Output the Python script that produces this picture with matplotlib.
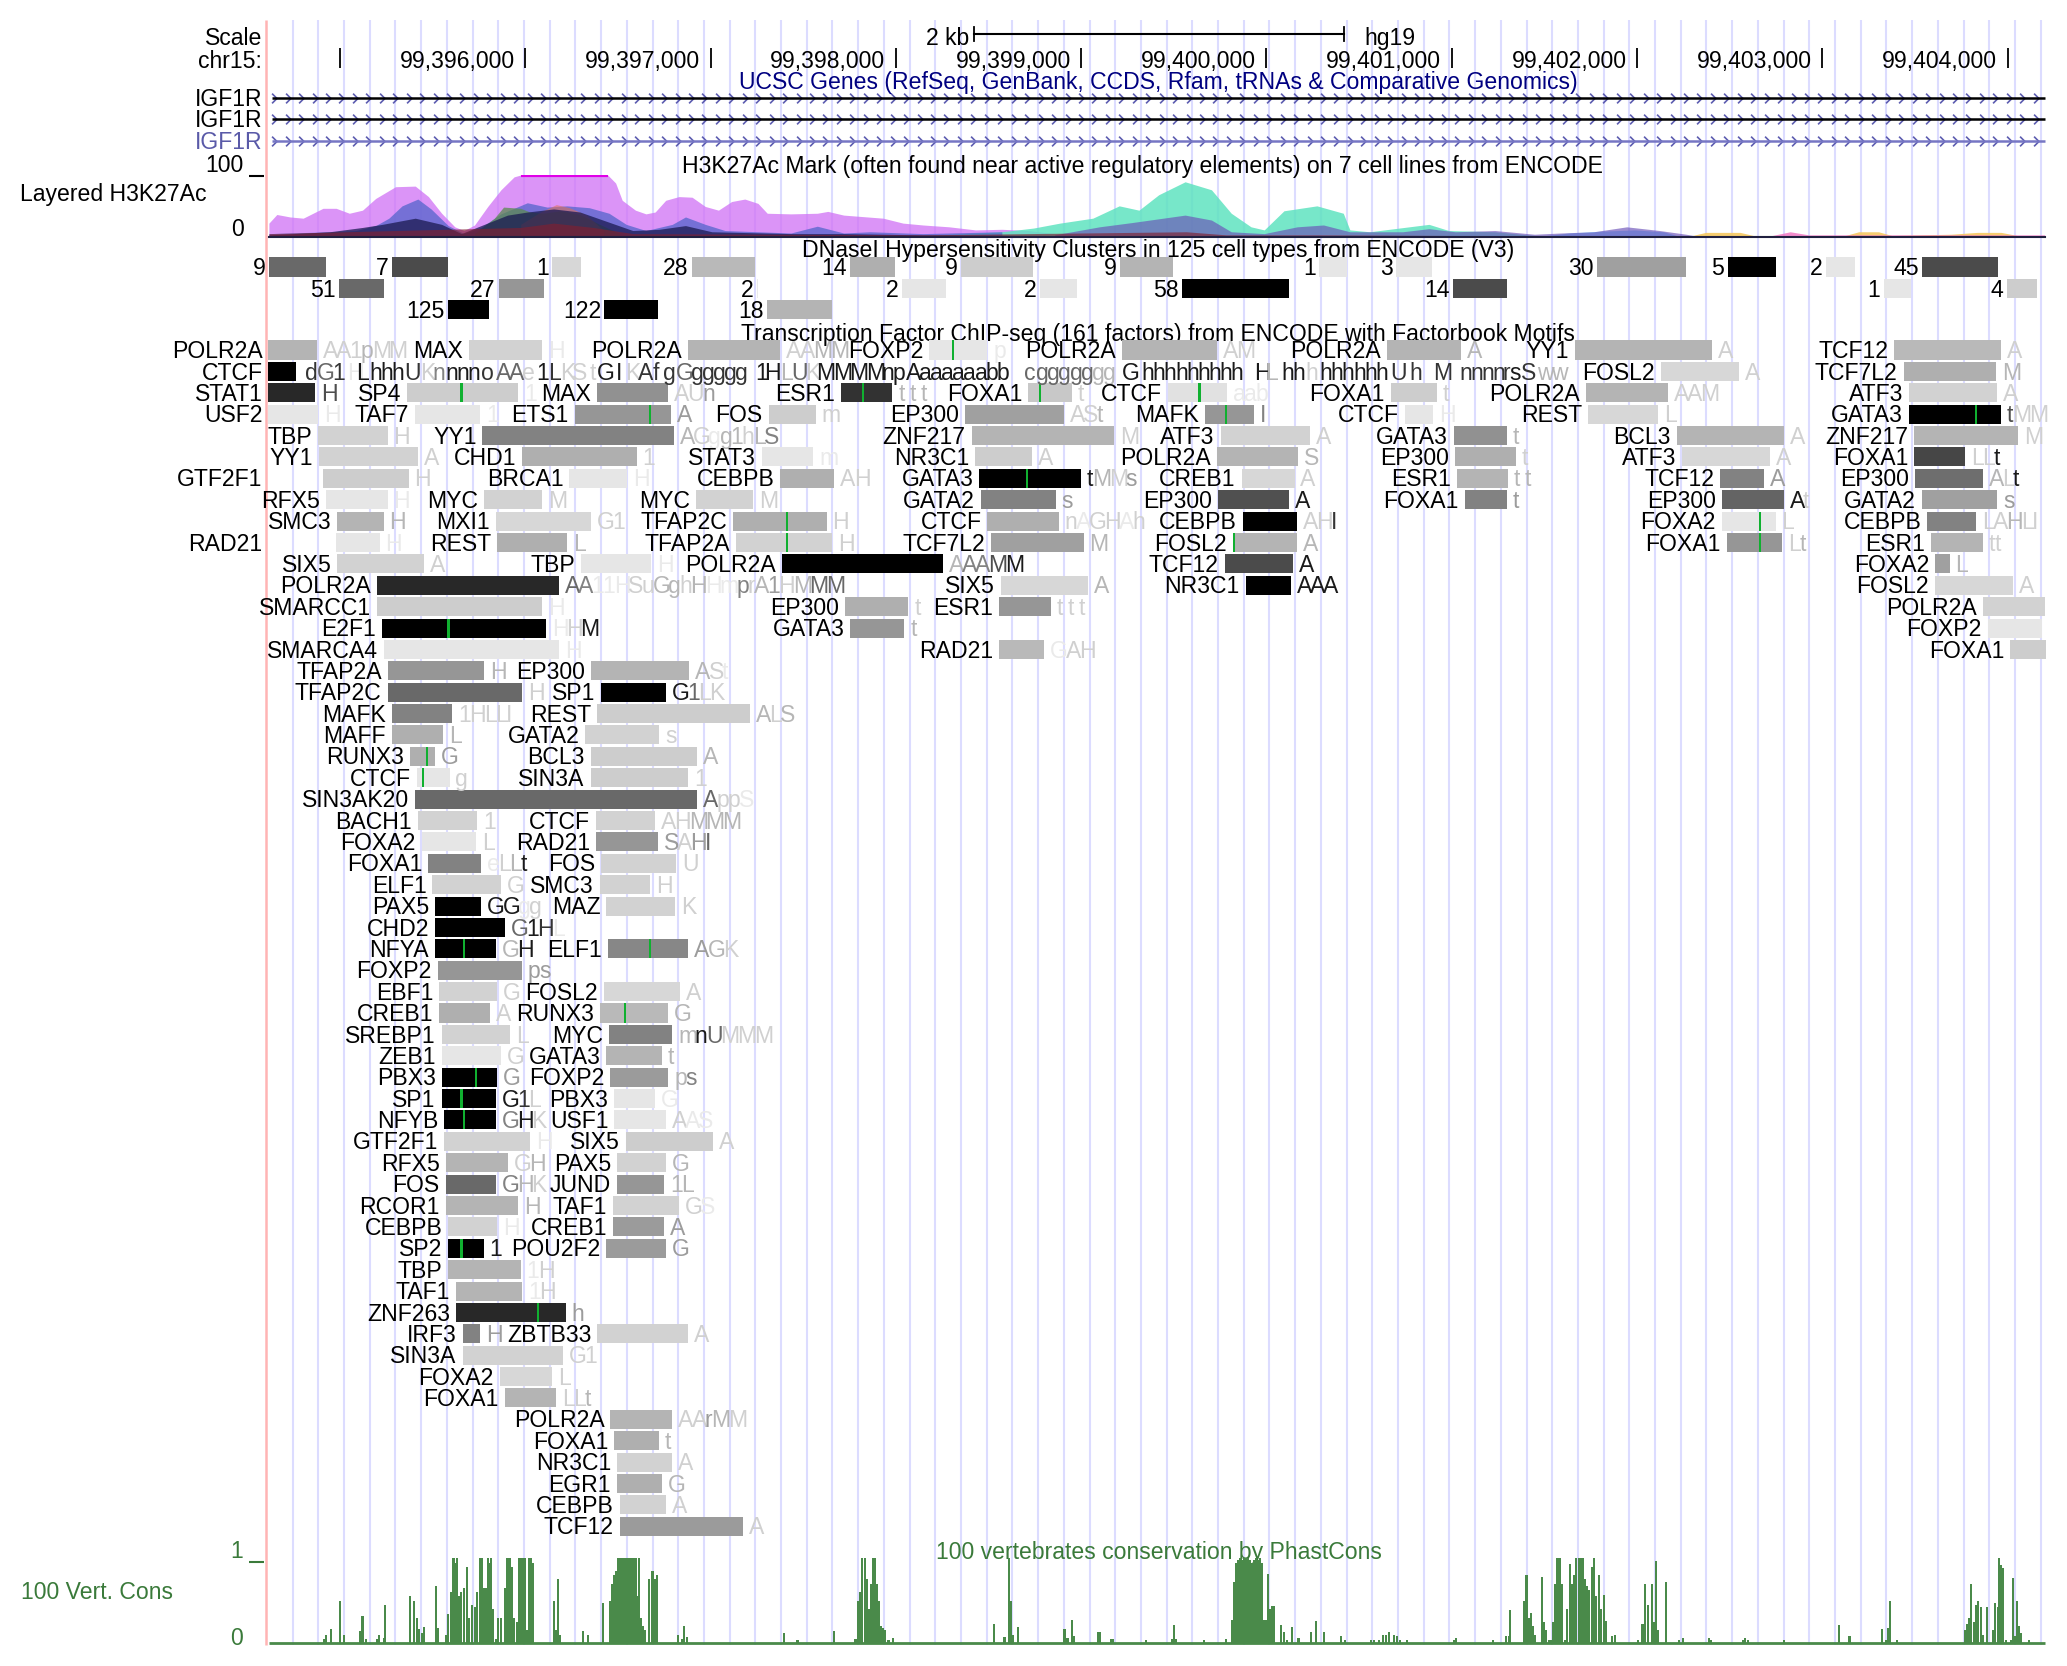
import numpy as np
import matplotlib
matplotlib.use("Agg")
import matplotlib.pyplot as plt
from matplotlib.path import Path

plt.rcParams['font.family'] = ['Liberation Sans', 'DejaVu Sans']
W, H, DPI = 2067, 1666, 100
FS = 16.6

# ---------- ruler ----------
ruler_pos = [99395000, 99396000, 99397000, 99398000, 99399000, 99400000,
             99401000, 99402000, 99403000, 99404000]
scale_kb = 2

# ---------- DNase clusters (columns of the browser image) ----------
dn_score = [["9", "7", "1", "28", "14", "9", "9", "1", "3", "30", "5", "2", "45"],
            ["51", "27", "2", "2", "2", "58", "14", "1", "4"],
            ["125", "122", "18"]]
dn_start = [[204, 297.5, 419, 525, 645, 729, 849.5, 1000.5, 1059, 1211.5, 1310.5, 1385, 1458],
            [257.5, 378.5, 574, 684.5, 789, 897, 1102.5, 1429, 1522.5],
            [340, 458.5, 582]]
dn_end = [[247.5, 340, 440.5, 572.5, 679, 784, 890, 1021.5, 1086.5, 1279, 1347.5, 1407.5, 1516],
          [291, 413, 575, 718, 817, 978, 1143, 1450, 1545.5],
          [371, 499, 631.5]]
dn_gray = [[105, 75, 215, 185, 175, 205, 180, 230, 230, 160, 0, 230, 75],
           [105, 150, 235, 230, 230, 0, 75, 230, 205],
           [0, 0, 180]]

# ---------- H3K27Ac layers ----------
purple_col = [204, 210, 220, 230, 245, 255, 265, 275, 285, 300, 315, 325, 335, 345, 352, 360, 370, 380, 390, 395,
              461, 467, 472, 482, 490, 497, 505, 515, 525, 535, 545, 555, 565, 575, 582, 600, 620, 628, 640, 670,
              685, 700, 720, 740, 760, 780, 800, 830]
purple_val = [22, 36, 32, 30, 46, 46, 38, 43, 62, 81, 82, 65, 38, 16, 10, 19, 49, 76, 97, 100,
              100, 87, 59, 43, 37, 40, 59, 65, 64, 49, 43, 57, 61, 54, 38, 37, 38, 41, 35, 30,
              22, 19, 16, 11, 12, 10, 5, 3]
blue_col = [204, 250, 270, 285, 295, 305, 317, 327, 340, 352, 365, 380, 400, 415, 430, 447, 462, 475, 490, 510,
            520, 535, 550, 600, 620, 640, 660, 700, 760]
blue_val = [5, 8, 10, 18, 30, 50, 61, 45, 18, 5, 15, 37, 55, 48, 50, 47, 38, 20, 10, 20,
            32, 20, 10, 6, 17, 6, 8, 5, 8]
dark_col = [204, 250, 275, 290, 315, 335, 350, 365, 385, 400, 420, 440, 460, 480, 500, 520, 540, 600, 640, 700, 800]
dark_val = [3, 8, 15, 20, 30, 20, 5, 18, 35, 40, 45, 40, 25, 10, 12, 18, 8, 5, 5, 3, 2]
olive_col = [360, 375, 382, 395, 402, 412, 425, 440, 455, 470]
olive_val = [5, 30, 48, 46, 40, 38, 42, 36, 20, 5]
orange_col = [395, 410, 422, 432, 445, 458]
orange_val = [20, 40, 52, 47, 35, 10]
red_col = [204, 300, 395, 420, 450, 480, 700, 900, 930, 1000, 1100, 1551]
red_val = [5, 10, 15, 22, 15, 5, 3, 8, 3, 3, 2, 1]
teal_col = [700, 730, 760, 784, 804, 829, 849, 864, 879, 899, 919, 934, 949, 959, 974, 999, 1019, 1024, 1039, 1084, 1099, 1134, 1164, 1180]
teal_val = [2, 5, 8, 14, 22, 30, 50, 43, 68, 89, 76, 38, 16, 11, 42, 50, 38, 11, 8, 20, 10, 8, 2, 0]
slate_col = [800, 834, 859, 879, 899, 919, 934, 959, 984, 1004, 1024, 1064, 1084, 1104, 1134, 1164, 1184, 1209, 1234, 1259, 1279, 1290]
slate_val = [3, 16, 23, 29, 35, 27, 8, 5, 16, 19, 8, 8, 13, 8, 10, 4, 6, 8, 16, 10, 4, 0]
cyan_col = [1165, 1190, 1215, 1240, 1262, 1275]
cyan_val = [0, 6, 9, 11, 8, 0]
yellow_col = [1280, 1294, 1320, 1330, 1400, 1410, 1425, 1435, 1480, 1500, 1518, 1530]
yellow_val = [0, 7, 7, 2, 2, 8, 8, 2, 4, 7, 7, 2]
pink_col = [1340, 1358, 1372, 1500, 1551]
pink_val = [0, 8, 3, 3, 3]

# ---------- PhastCons, region by region ----------
cons_a_col = [246, 247.5, 251, 258, 261, 273.5, 275, 277.5, 286, 287.5, 291, 292]
cons_a_val = [.05, .09, .17, .50, .10, .14, .32, .05, .05, .09, .06, .45]
cons_b_col = [311, 314, 316, 318, 320, 321.5, 330.5, 332.5, 338.5, 340]
cons_b_val = [.55, .50, .30, .16, .12, .19, .67, .18, .10, .34]
cons_c_col = [342, 344, 345.5, 347, 348.5, 350, 352, 354, 356, 358, 360, 362, 364, 365.5, 367, 368.5, 370, 371, 372.5, 374]
cons_c_val = [.60, 1, .95, 1, .55, .60, .65, .90, .30, .45, .43, .60, 1, 1, .65, .65, 1, .95, 1, .40]
cons_d_col = [376, 378, 380, 383, 385, 386.5, 388, 390, 392, 394, 395.5, 397, 398.5, 400, 401, 402.5, 404]
cons_d_val = [.05, .30, .30, .65, 1, 1, .90, .30, .25, 1, 1, 1, 1, .15, 1, 1, .95]
cons_e_col = [420, 421.5, 423.5, 425, 442.5, 446, 457.5, 462.5, 464, 466, 467.5]
cons_e_val = [.50, .15, .75, .10, .14, .10, .47, .50, .70, .80, .85]
cons_f_col = [469, 470.5, 472, 473.5, 475, 476.5, 478, 479.5, 481, 482.5, 484, 485, 486.5, 488, 489.5]
cons_f_val = [1, 1, 1, 1, 1, 1, 1, 1, 1, 1, .55, 1, .30, .20, .15]
cons_g_col = [492.5, 495, 496.5, 498.5, 514, 517.5, 519, 521, 595, 605, 632.5]
cons_g_val = [.75, .85, .75, .80, .10, .05, .20, .07, .12, .03, .14]
cons_h_col = [649, 651, 652.5, 654, 656, 657.5, 659, 661, 662.5, 664, 665.5, 667, 668.5, 670, 671.5, 674, 677.5]
cons_h_val = [.05, .50, .60, 1, 1, .75, .40, .70, 1, 1, .70, .50, .20, .18, .15, .04, .06]
cons_i_col = [754, 762, 765.5, 767, 768.5, 772, 807.5, 809, 810.5, 813, 815, 833, 834.5, 843, 844.5, 869.5]
cons_i_val = [.23, .07, 1, .50, .10, .19, .17, .06, .06, .27, .08, .13, .13, .05, .05, .03]
cons_j_col = [889, 890.5, 892, 913.5, 930, 935, 936.5, 938, 939.5, 941, 942.5, 944, 945.5, 947, 948.5]
cons_j_val = [.05, .21, .05, .03, .05, .27, .72, .95, .98, 1, .98, 1, 1, 1, .98]
cons_k_col = [950, 951.5, 953, 954.5, 956, 957.5, 959, 960.5, 962, 963.5, 965, 966.5]
cons_k_val = [.95, .98, 1, .98, 1, .95, .27, .27, .82, .40, .44, .44]
cons_l_col = [972, 974, 976.5, 980, 985, 994.5, 998, 1004.5, 1017.5, 1020, 1040, 1042]
cons_l_val = [.21, .13, .03, .19, .06, .13, .26, .13, .08, .03, .03, .03]
cons_m_col = [1046, 1049, 1051.5, 1054, 1057.5, 1060, 1062, 1067.5, 1103, 1104.5, 1132.5, 1142.5, 1144.5, 1145.5]
cons_m_val = [.03, .10, .10, .13, .10, .08, .03, .03, .03, .06, .03, .08, .08, .39]
cons_n_col = [1156.5, 1158, 1160, 1161.5, 1163, 1164.5, 1169.5, 1171.5, 1173, 1175, 1176.5, 1178, 1179.5, 1181.5, 1183, 1185]
cons_n_val = [.50, .80, .30, .35, .20, .10, .78, .25, .15, .03, .03, .25, .70, 1, 1, .70]
cons_o_col = [1187, 1189, 1191, 1192.5, 1194, 1195.5, 1197.5, 1199, 1201, 1202.5, 1204, 1205.5, 1207.5, 1209.5, 1211, 1213, 1214.5, 1216.5, 1218, 1223, 1225]
cons_o_val = [.03, .40, .93, .70, .80, 1, 1, 1, 1, .75, .67, .62, .90, 1, .55, .80, .40, .57, .26, .08, .10]
cons_p_col = [1242.5, 1246, 1248, 1250, 1253, 1254.5, 1256, 1257.5, 1263.5, 1274, 1276.5, 1296.5, 1298, 1322, 1324, 1326]
cons_p_val = [.03, .22, .70, .45, .70, .25, .97, .15, .72, .03, .06, .06, .03, .03, .06, .03]
cons_q_col = [1353, 1395, 1403, 1427.5, 1430.5, 1432.5, 1434, 1439]
cons_q_val = [.03, .21, .08, .16, .03, .18, .50, .03]
cons_r_col = [1491, 1492.5, 1494, 1495.5, 1497.5, 1499, 1500.5, 1502.5, 1504, 1507, 1512, 1513.5, 1515.5]
cons_r_val = [.15, .22, .30, .70, .25, .45, .50, .43, .10, .43, .15, .47, .43]
cons_s_col = [1516.5, 1518, 1519.5, 1522, 1525.5, 1527, 1528.5, 1530, 1531.5, 1533, 1539]
cons_s_val = [1, .92, .88, .03, .03, .77, .08, .50, .20, .12, .03]
cons_col = (cons_a_col + cons_b_col + cons_c_col + cons_d_col + cons_e_col + cons_f_col + cons_g_col + cons_h_col +
            cons_i_col + cons_j_col + cons_k_col + cons_l_col + cons_m_col + cons_n_col + cons_o_col + cons_p_col +
            cons_q_col + cons_r_col + cons_s_col)
cons_val = (cons_a_val + cons_b_val + cons_c_val + cons_d_val + cons_e_val + cons_f_val + cons_g_val + cons_h_val +
            cons_i_val + cons_j_val + cons_k_val + cons_l_val + cons_m_val + cons_n_val + cons_o_val + cons_p_val +
            cons_q_val + cons_r_val + cons_s_val)

# ---------- Transcription factor rows ----------
tf_names = [
 ["POLR2A", "MAX", "POLR2A", "FOXP2", "POLR2A", "POLR2A", "YY1", "TCF12"],
 ["CTCF", "FOSL2", "TCF7L2"],
 ["STAT1", "SP4", "MAX", "ESR1", "FOXA1", "CTCF", "FOXA1", "POLR2A", "ATF3"],
 ["USF2", "TAF7", "ETS1", "FOS", "EP300", "MAFK", "CTCF", "REST", "GATA3"],
 ["TBP", "YY1", "ZNF217", "ATF3", "GATA3", "BCL3", "ZNF217"],
 ["YY1", "CHD1", "STAT3", "NR3C1", "POLR2A", "EP300", "ATF3", "FOXA1"],
 ["GTF2F1", "BRCA1", "CEBPB", "GATA3", "CREB1", "ESR1", "TCF12", "EP300"],
 ["RFX5", "MYC", "MYC", "GATA2", "EP300", "FOXA1", "EP300", "GATA2"],
 ["SMC3", "MXI1", "TFAP2C", "CTCF", "CEBPB", "FOXA2", "CEBPB"],
 ["RAD21", "REST", "TFAP2A", "TCF7L2", "FOSL2", "FOXA1", "ESR1"],
 ["SIX5", "TBP", "POLR2A", "TCF12", "FOXA2"],
 ["POLR2A", "SIX5", "NR3C1", "FOSL2"],
 ["SMARCC1", "EP300", "ESR1", "POLR2A"],
 ["E2F1", "GATA3", "FOXP2"],
 ["SMARCA4", "RAD21", "FOXA1"],
 ["TFAP2A", "EP300"], ["TFAP2C", "SP1"], ["MAFK", "REST"], ["MAFF", "GATA2"], ["RUNX3", "BCL3"],
 ["CTCF", "SIN3A"], ["SIN3AK20"], ["BACH1", "CTCF"], ["FOXA2", "RAD21"], ["FOXA1", "FOS"],
 ["ELF1", "SMC3"], ["PAX5", "MAZ"], ["CHD2"], ["NFYA", "ELF1"], ["FOXP2"],
 ["EBF1", "FOSL2"], ["CREB1", "RUNX3"], ["SREBP1", "MYC"], ["ZEB1", "GATA3"], ["PBX3", "FOXP2"],
 ["SP1", "PBX3"], ["NFYB", "USF1"], ["GTF2F1", "SIX5"], ["RFX5", "PAX5"], ["FOS", "JUND"],
 ["RCOR1", "TAF1"], ["CEBPB", "CREB1"], ["SP2", "POU2F2"], ["TBP"], ["TAF1"],
 ["ZNF263"], ["IRF3", "ZBTB33"], ["SIN3A"], ["FOXA2"], ["FOXA1"],
 ["POLR2A"], ["FOXA1"], ["NR3C1"], ["EGR1"], ["CEBPB"], ["TCF12"]]
tf_start = [
 [203.6, 356, 522, 705, 851, 1052, 1195, 1437],
 [203.6, 1260, 1444],
 [203.6, 309, 453, 638, 780, 886, 1055, 1203, 1448],
 [203.6, 315, 436, 583, 732, 914, 1066, 1205, 1448],
 [241, 366, 737, 926, 1103, 1272, 1452],
 [242, 396, 578, 740, 923, 1104, 1276, 1452],
 [245, 432, 592, 743, 942, 1105, 1305, 1453],
 [247, 367, 528, 744, 924, 1111, 1306, 1458],
 [256, 376, 556, 749, 943, 1306, 1462],
 [255, 377, 558, 752, 935, 1310, 1465],
 [256, 441, 593, 929, 1468],
 [286, 759, 945, 1468],
 [286, 641, 758, 1504],
 [290, 645, 1508],
 [291, 758, 1525],
 [294, 448], [294, 456], [297, 453], [297, 444], [311, 448],
 [316, 448], [315], [317, 452], [320, 452], [325, 456],
 [328, 455], [330, 460], [330], [330, 461], [332],
 [333, 458], [333, 455], [335, 462], [335, 460], [335, 463],
 [335, 466], [337, 466], [337, 475], [338, 468], [338, 468],
 [338, 465], [340, 465], [340, 460], [340], [346],
 [346], [351, 453], [351], [379], [383],
 [463], [466], [468], [468], [470], [470]]
tf_end = [
 [240.4, 411, 592, 749, 923, 1108, 1299, 1518],
 [224.6, 1319, 1514],
 [239, 393, 507, 677, 813, 931, 1090, 1265, 1515],
 [241.6, 364, 509, 619, 807, 951, 1087, 1258, 1518],
 [294, 511, 845, 994, 1143, 1353, 1531],
 [317, 483, 617, 783, 985, 1150, 1343, 1491],
 [310, 476, 633, 820, 982, 1144, 1338, 1504],
 [294, 411, 571, 801, 978, 1143, 1353, 1515],
 [291, 448, 627, 803, 984, 1347, 1499],
 [288, 430, 631, 822, 984, 1352, 1504],
 [322, 494, 715, 981, 1479],
 [424, 825, 979, 1527],
 [411, 689, 797, 1551],
 [414, 686, 1549],
 [424, 792, 1552],
 [367, 523], [396, 505], [343, 569], [336, 500], [330, 529],
 [341, 522], [529], [362, 497], [361, 499], [365, 513],
 [380, 493], [365, 512], [383], [376, 522], [396],
 [377, 516], [372, 507], [387, 510], [380, 502], [377, 507],
 [376, 497], [376, 505], [402, 541], [385, 505], [376, 504],
 [393, 515], [377, 504], [367, 505], [395], [396],
 [429], [364, 522], [427], [419], [422],
 [510], [500], [510], [502], [505], [564]]
tf_gray = [
 [180, 210, 180, 230, 180, 180, 180, 185],
 [0, 215, 175],
 [40, 205, 145, 50, 200, 225, 205, 180, 210],
 [230, 230, 150, 205, 160, 150, 230, 215, 0],
 [210, 130, 180, 210, 145, 180, 180],
 [210, 175, 230, 205, 180, 175, 215, 70],
 [205, 230, 175, 0, 215, 180, 130, 110],
 [230, 210, 210, 130, 80, 130, 100, 160],
 [180, 215, 175, 175, 0, 230, 130],
 [230, 175, 210, 160, 180, 150, 180],
 [210, 230, 0, 75, 160],
 [40, 215, 0, 215],
 [205, 175, 150, 210],
 [0, 150, 230],
 [230, 185, 205],
 [150, 180], [105, 0], [130, 205], [175, 210], [175, 205],
 [230, 205], [105], [210, 210], [230, 150], [130, 210],
 [210, 210], [0, 210], [0], [0, 135], [150],
 [210, 215], [175, 185], [210, 130], [230, 180], [0, 155],
 [0, 230], [0, 230], [210, 205], [180, 210], [105, 150],
 [180, 210], [210, 155], [0, 155], [180], [180],
 [40], [130, 210], [210], [215], [180],
 [180], [175], [210], [175], [210], [155]]
tf_motif = [
 [0, 0, 0, 723, 0, 0, 0, 0],
 [0, 0, 0],
 [0, 350, 0, 654.6, 789, 910, 0, 0, 0],
 [0, 0, 493, 0, 0, 930, 0, 0, 1499],
 [0, 0, 0, 0, 0, 0, 0],
 [0, 0, 0, 0, 0, 0, 0, 0],
 [0, 0, 0, 779, 0, 0, 0, 0],
 [0, 0, 0, 0, 0, 0, 0, 0],
 [0, 0, 597, 0, 0, 1335, 0],
 [0, 0, 597, 0, 936, 1335, 0],
 [0, 0, 0, 0, 0],
 [0, 0, 0, 0],
 [0, 0, 0, 0],
 [340, 0, 0],
 [0, 0, 0],
 [0, 0], [0, 0], [0, 0], [0, 0], [324, 0],
 [321, 0], [0], [0, 0], [0, 0], [0, 0],
 [0, 0], [0, 0], [0], [352, 493], [0],
 [0, 0], [0, 474], [0, 0], [0, 0], [361, 0],
 [350, 0], [352, 0], [0, 0], [0, 0], [0, 0],
 [0, 0], [0, 0], [350, 0], [0], [0],
 [408], [0, 0], [0], [0], [0],
 [0], [0], [0], [0], [0], [0]]
tf_notes = [
 ["AA1pMM", "H", "AAMM", "p", "AM", "A", "A", "A"],
 ["", "A", "M"],
 ["H", "1", "AUn", "t t t", "t", "aab", "t", "AAM", "A"],
 ["H", "1", "A", "m", "ASt", "I", "H", "L", "tMM"],
 ["H", "AGgg1hLS", "M", "A", "t", "A", "M"],
 ["A", "1", "m", "A", "S", "t", "A", "LLt"],
 ["H", "H", "AH", "tMMs", "A", "t t", "A", "ALt"],
 ["H", "M", "M", "s", "A", "t", "At", "s"],
 ["H", "G1", "H", "nAGHAh", "AHI", "L", "LAHLI"],
 ["H", "L", "H", "M", "A", "Lt", "tt"],
 ["A", "H", "AAAMM", "A", "L"],
 ["AA11HSuGghHHmprA1HMMM", "A", "AAA", "A"],
 ["H", "t", "t t t", ""],
 ["HHM", "t", ""],
 ["H", "GAH", ""],
 ["H", "ASt"], ["H", "G1LK"], ["1HLLI", "ALS"], ["L", "s"], ["G", "A"],
 ["g", "1"], ["AppS"], ["1", "AHMMM"], ["L", "SAHI"], ["eLLt", "U"],
 ["G", "H"], ["GGgg", "K"], ["G1HL"], ["GH", "AGK"], ["ps"],
 ["G", "A"], ["A", "G"], ["L", "mnUMMM"], ["G", "t"], ["G", "ps"],
 ["G1L", "G"], ["GHK", "AAS"], ["H", "A"], ["GH", "G"], ["GHK", "1L"],
 ["H", "GS"], ["H", "A"], ["1", "G"], ["1H"], ["1H"],
 ["h"], ["H", "A"], ["G1"], ["L"], ["LLt"],
 ["AArMM"], ["t"], ["A"], ["G"], ["A"], ["A"]]
tf_shades = [
 ["888788", "9", "8877", "9", "88", "7", "8", "8"],
 ["", "8", "7"],
 ["3", "9", "886", "7", "8", "999", "8", "888", "8"],
 ["9", "9", "6", "8", "887", "5", "9", "8", "388"],
 ["8", "78977875", "8", "8", "7", "8", "8"],
 ["8", "8", "9", "8", "7", "8", "8", "881"],
 ["8", "9", "88", "1786", "8", "7", "6", "781"],
 ["9", "8", "8", "6", "1", "6", "18", "6"],
 ["7", "88", "8", "898898", "882", "8", "88788"],
 ["9", "7", "8", "7", "7", "87", "88"],
 ["8", "9", "75531", "1", "7"],
 ["459998877879958768744", "7", "111", "8"],
 ["9", "8", "888", ""],
 ["981", "7", ""],
 ["9", "988", ""],
 ["7", "789"], ["8", "1488"], ["88888", "787"], ["7", "8"], ["6", "7"],
 ["8", "8"], ["4889"], ["8", "88777"], ["8", "6864"], ["9871", "8"],
 ["8", "8"], ["1198", "8"], ["4129"], ["71", "678"], ["66"],
 ["8", "8"], ["8", "7"], ["8", "714888"], ["8", "7"], ["6", "75"],
 ["128", "9"], ["518", "899"], ["9", "8"], ["87", "7"], ["578", "77"],
 ["7", "89"], ["9", "6"], ["1", "6"], ["98"], ["98"],
 ["6"], ["6", "8"], ["88"], ["8"], ["887"],
 ["88678"], ["7"], ["8"], ["7"], ["8"], ["8"]]

# CTCF row: long run of cell-line letters
ctcf_text = ["d", "G", "1", "H", "L", "hhh", "U", "K", "n", "nnn", "o", "AA", "e", "1", "L", "K", "S", "t", "G", "I", "K",
             "A", "f", "g", "G", "ggggg", "1", "H", "L", "U", "K", "MMMM", "np", "Aaaaaaabb", "c", "ggggg", "gg", "G",
             "hhhhhhhhh", "H", "L", "hh", "h", "hhhhhh", "U", "h", "M", "nnnn", "r", "s", "S", "ww"]
ctcf_x = [231, 240, 252, 263, 270, 280, 307, 319, 328, 338, 365, 376, 396, 407, 416, 425, 434, 447, 453, 467, 474,
          484, 495, 503, 513, 524, 573, 580, 592, 600, 611, 619, 669, 687, 777, 786, 828, 851,
          866, 951, 960, 972, 990, 1001, 1055, 1069, 1087, 1107, 1140, 1145, 1154, 1166]
ctcf_shade = [2, 4, 2, 9, 1, 1, 2, 8, 5, 1, 2, 4, 8, 1, 2, 8, 8, 8, 1, 1, 8,
              2, 2, 2, 4, 2, 1, 1, 7, 4, 8, 1, 1, 1, 4, 4, 7, 1,
              1, 1, 7, 1, 8, 1, 2, 2, 2, 2, 2, 1, 2, 7]

CHAR_W = {'M': .833, 'A': .667, 'G': .778, 'H': .722, 'K': .667, 'L': .556, 'S': .667, 'U': .722, 'I': .278,
          't': .278, 'f': .278, 'r': .333, 's': .5, 'w': .722, 'm': .833, ' ': .278, 'c': .5}
EM = 17.25

COL_W = 1568
fig = plt.figure(figsize=(W / DPI, H / DPI), dpi=DPI, facecolor='white')


def track_axes(top, bottom, y0, y1, z=1):
    ax = fig.add_axes([0, 1 - bottom / H, 1, (bottom - top) / H], zorder=z)
    ax.set_xlim(0, COL_W)
    ax.set_ylim(y0, y1)
    ax.axis('off')
    ax.patch.set_alpha(0)
    return ax


px = track_axes(0, H, H, 0, z=0)
# guide lines
for c in np.arange(222, 1550, 19.5):
    px.plot([c, c], [20, 1645], color='#dcdcff', lw=1.5, solid_capstyle='butt', zorder=0)
px.plot([201.5, 201.5], [20, 1645], color='#ffb4b4', lw=1.8, solid_capstyle='butt', zorder=1)


def t(ax, x, y, s, ha='right', color='black', fs=FS):
    ax.text(x, y, s, ha=ha, va='baseline', color=color, fontsize=fs)


# ---- ruler ----
BASE = 8.0
t(px, 199, 37 + BASE, "Scale")
t(px, 199, 60 + BASE, "chr15:")
tick_col = [258 + (p - ruler_pos[0]) / 1000 * 140.55 for p in ruler_pos]
for i, (p, c) in enumerate(zip(ruler_pos, tick_col)):
    px.plot([c, c], [48, 68], color='black', lw=1.3, solid_capstyle='butt')
    if i:
        t(px, c - 8, 60 + BASE, f"{p:,}")
kb_w = scale_kb * 140.55
bar_x0 = 738.5
px.plot([bar_x0, bar_x0 + kb_w], [33.7, 33.7], color='black', lw=1.5)
for c in (bar_x0, bar_x0 + kb_w):
    px.plot([c, c], [27, 41], color='black', lw=1.3)
t(px, 735, 37 + BASE, "2 kb")
t(px, 1035, 37 + BASE, "hg19", ha='left')
t(px, 878.5, 81 + BASE, "UCSC Genes (RefSeq, GenBank, CCDS, Rfam, tRNAs & Comparative Genomics)",
  ha='center', color='#000080')

# ---- genes ----
chev = Path([(-.5, -1), (.5, 0), (-.5, 1)], [Path.MOVETO, Path.LINETO, Path.LINETO])
gene_y = [98.3, 119.3, 141]
gene_line = ['black', 'black', '#7676c4']
gene_label = ['black', 'black', '#5a5aa8']
for y, lc, tc in zip(gene_y, gene_line, gene_label):
    t(px, 199, y + BASE, "IGF1R", color=tc)
    px.plot([206, 1551], [y, y], color=lc, lw=1.8, zorder=3, solid_capstyle='butt')
    chev_x = np.arange(208, 1550, 10.2)
    px.plot(chev_x, [y] * len(chev_x), ls='none', marker=chev, ms=7,
            mfc='none', mec='#5c5cb0', mew=1.2, zorder=2)

# ---- H3K27Ac ----
t(px, 866.5, 165 + BASE, "H3K27Ac Mark (often found near active regulatory elements) on 7 cell lines from ENCODE", ha='center')
t(px, 156.5, 193 + BASE, "Layered H3K27Ac")
t(px, 185, 164 + BASE, "100")
t(px, 185, 228 + BASE, "0")
px.plot([189, 200], [175.7, 175.7], color='black', lw=1.5, solid_capstyle='butt')
ax_h = track_axes(175, 236.7, 0, 100, z=1)
layers = [(purple_col, purple_val, '#d070f5', .75),
          (teal_col, teal_val, '#5fe3c0', .85),
          (cyan_col, cyan_val, '#70c8ff', .8),
          (yellow_col, yellow_val, '#f5c860', .9),
          (pink_col, pink_val, '#f070c0', .8),
          (blue_col, blue_val, '#4a62c8', .70),
          (slate_col, slate_val, '#6a50b8', .65),
          (olive_col, olive_val, '#5a8a50', .75),
          (orange_col, orange_val, '#e07050', .55),
          (dark_col, dark_val, '#1a1a50', .75),
          (red_col, red_val, '#802030', .65)]
for c, v, col, a in layers:
    ax_h.fill_between(c, 0, v, color=col, alpha=a, lw=0)
ax_h.plot([395, 461], [100, 100], color='#e000e8', lw=3, solid_capstyle='butt')
ax_h.plot([204, 1551], [0, 0], color='#202040', lw=1.5, clip_on=False)

# ---- DNase ----
t(px, 878.5, 249.3 + BASE, "DNaseI Hypersensitivity Clusters in 125 cell types from ENCODE (V3)", ha='center')
ax_d = track_axes(256.3, 320.5, 2.5, -0.5, z=1)
for r in range(3):
    for sc, a, b, g in zip(dn_score[r], dn_start[r], dn_end[r], dn_gray[r]):
        ax_d.barh(r, b - a, left=a, height=.89, color=str(g / 255), lw=0)
        ax_d.text(a - 2.5, r + .38, sc, ha='right', va='baseline', fontsize=FS, color='black')

# ---- TF ChIP ----
t(px, 878.5, 332.7 + BASE, "Transcription Factor ChIP-seq (161 factors) from ENCODE with Factorbook Motifs", ha='center')
ax_t = track_axes(339.3, 1537, 55.5, -0.5, z=1)
PITCH = .88


def note(x, y, text, shade):
    for i, ch in enumerate(text):
        d = int(shade[i] if len(shade) > 1 and i < len(shade) else shade[0])
        if ch != ' ':
            ax_t.text(x, y, ch, ha='left', va='baseline', fontsize=FS, color=str(min(d * 26, 235) / 255))
        x += CHAR_W.get(ch, .556) * EM * PITCH
    return x


for r, names in enumerate(tf_names):
    for j, nm in enumerate(names):
        a, b, g, m = tf_start[r][j], tf_end[r][j], tf_gray[r][j], tf_motif[r][j]
        ax_t.barh(r, b - a, left=a, height=.89, color=str(g / 255), lw=0, zorder=2)
        if m:
            ax_t.barh(r, 2.0, left=m - 1, height=.89, color='#10b030', lw=0, zorder=3)
        lx = 199 if (j == 0 and r in (6, 9)) else a - 4.5
        ax_t.text(lx, r + .38, nm, ha='right', va='baseline', fontsize=FS, color='black', zorder=4)
        if tf_notes[r][j]:
            note(b + 4.5, r + .38, tf_notes[r][j], tf_shades[r][j])
for s, x, d in zip(ctcf_text, ctcf_x, ctcf_shade):
    note(x, 1 + .38, s, str(d))

# ---- conservation ----
GREEN = '#3a7a3a'
t(px, 1048, 1551 + BASE, "100 vertebrates conservation by PhastCons", color=GREEN)
t(px, 131, 1590.7 + BASE, "100 Vert. Cons", color=GREEN)
t(px, 184, 1550 + BASE, "1", color=GREEN)
t(px, 184, 1636.7 + BASE, "0", color=GREEN)
px.plot([189, 200], [1561.7, 1561.7], color=GREEN, lw=1.5, solid_capstyle='butt')
ax_c = track_axes(1558.3, 1643, 0, 1, z=1)
ax_c.bar(cons_col, cons_val, width=1.6, color='#4a8a4a', lw=0, align='center')
ax_c.plot([204, 1551], [0, 0], color='#4a8a4a', lw=2, clip_on=False, solid_capstyle='butt')

fig.savefig('out.png', dpi=DPI, facecolor='white')
